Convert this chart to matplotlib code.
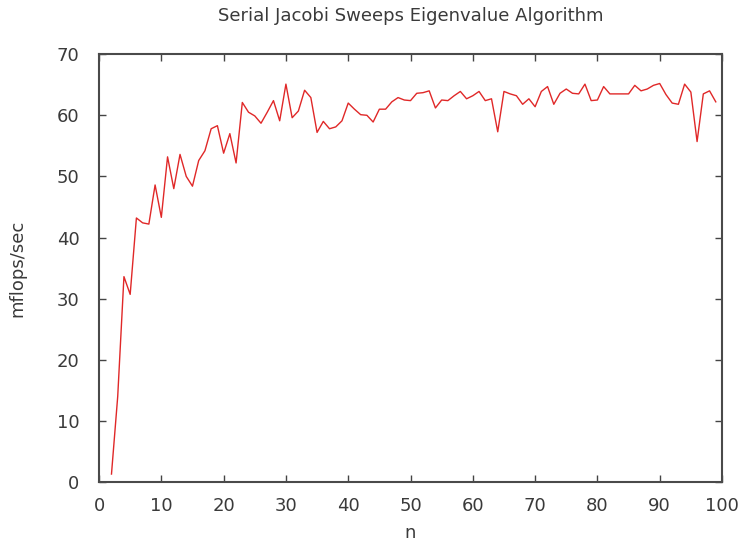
import matplotlib
matplotlib.use("Agg")
import matplotlib.pyplot as plt
import numpy as np

# matrix size n and measured rate for the serial Jacobi sweeps
n = np.arange(2, 100)
mflops = [1.3, 14.0, 33.6, 30.7, 43.2, 42.4, 42.2, 48.6, 43.3, 53.2,
          48.0, 53.6, 50.0, 48.4, 52.6, 54.2, 57.8, 58.3, 53.8, 57.0,
          52.2, 62.1, 60.5, 59.9, 58.7, 60.5, 62.4, 59.1, 65.1, 59.6,
          60.7, 64.1, 62.9, 57.2, 59.0, 57.8, 58.1, 59.1, 62.0, 61.0,
          60.1, 60.0, 58.9, 61.0, 61.0, 62.2, 62.9, 62.5, 62.4, 63.6,
          63.7, 64.0, 61.2, 62.5, 62.4, 63.2, 63.9, 62.7, 63.2, 63.9,
          62.4, 62.7, 57.3, 63.9, 63.5, 63.2, 61.8, 62.7, 61.4, 63.9,
          64.7, 61.8, 63.6, 64.3, 63.6, 63.5, 65.1, 62.4, 62.5, 64.7,
          63.5, 63.5, 63.5, 63.5, 64.9, 64.0, 64.3, 64.9, 65.2, 63.4,
          62.0, 61.8, 65.1, 63.8, 55.7, 63.5, 64.0, 62.2]

txt = "#3a3a3a"

fig = plt.figure(figsize=(7.39, 5.45), dpi=100)
ax = fig.add_axes([0.134, 0.1156, 0.843, 0.785])

ax.plot(n, mflops, color="#e02828", linewidth=1.0)

ax.set_xlim(0, 100)
ax.set_ylim(0, 70)
ax.set_xticks(np.arange(0, 101, 10))
ax.set_yticks(np.arange(0, 71, 10))
ax.tick_params(direction="in", top=True, right=True, length=5,
               width=1.0, labelsize=13, colors="#444444", labelcolor=txt)
ax.tick_params(axis="x", pad=11)
ax.tick_params(axis="y", pad=14)
for s in ax.spines.values():
    s.set_linewidth(1.5)
    s.set_color("#4a4a4a")

ax.set_title("Serial Jacobi Sweeps Eigenvalue Algorithm", fontsize=13,
             color=txt, pad=24)
ax.set_xlabel("n", fontsize=13, color=txt, labelpad=6)
ax.set_ylabel("mflops/sec", fontsize=13, color=txt, labelpad=22)

fig.savefig("out.png", dpi=100)
